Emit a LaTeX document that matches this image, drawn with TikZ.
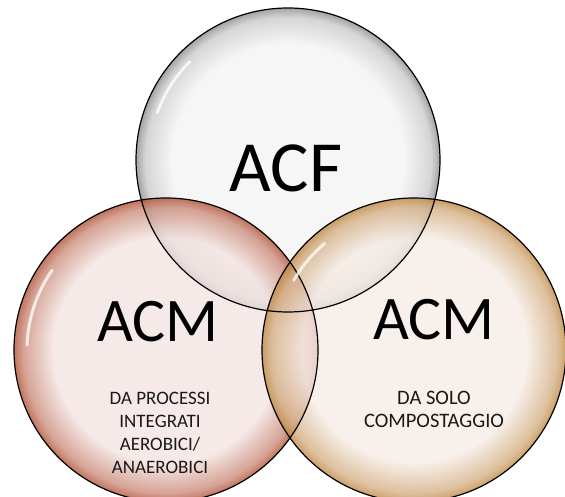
\documentclass[tikz,border=0pt]{standalone}
\usepackage{fontspec}
\setmainfont{Carlito}
\usepackage{tikz}
\usetikzlibrary{positioning}

\definecolor{acfFill}{HTML}{F4F4F4}
\definecolor{acfRim}{HTML}{8A8A8A}
\definecolor{integFill}{HTML}{F3E4E2}
\definecolor{integRim}{HTML}{B04E32}
\definecolor{compFill}{HTML}{F5ECE6}
\definecolor{compRim}{HTML}{BE8640}

\pgfdeclareradialshading{bubbleacf}{\pgfpointorigin}{color(0bp)=(acfFill); color(19bp)=(acfFill); color(23.5bp)=(acfRim!40!acfFill); color(25bp)=(acfRim); color(50bp)=(acfRim)}
\pgfdeclareradialshading{bubbleinteg}{\pgfpointorigin}{color(0bp)=(integFill); color(18.5bp)=(integFill); color(23.5bp)=(integRim!60!integFill); color(25bp)=(integRim); color(50bp)=(integRim)}
\pgfdeclareradialshading{bubblecomp}{\pgfpointorigin}{color(0bp)=(compFill); color(18.5bp)=(compFill); color(23.5bp)=(compRim!60!compFill); color(25bp)=(compRim); color(50bp)=(compRim)}

\tikzset{
  bubble/.style={circle, inner sep=0pt, minimum size=304pt, fill opacity=0.78},
  rimline/.style={circle, inner sep=0pt, minimum size=304pt, draw=black, line width=1.2pt},
  glare/.style={white, line width=3pt, line cap=round, opacity=0.75},
  bigtext/.style={font=\fontsize{#1}{#1}\selectfont, inner sep=0pt},
  smalltext/.style={font=\fontsize{#1}{23}\selectfont, align=center, inner sep=0pt, text=black!90}
}

\begin{document}
\begin{tikzpicture}[x=1pt, y=1pt]
\useasboundingbox (0,0) rectangle (565,497);
% the three bubbles
\node[bubble, shading=bubbleacf] (acf) at (288,337) {};
\node[bubble, shading=bubbleinteg] (integ) at (166,147) {};
\node[bubble, shading=bubblecomp] (comp) at (414,147) {};
% outlines on top of all fills
\foreach \b in {acf,integ,comp}
  \node[rimline] at (\b.center) {};
% glare on the rims
\draw[glare] ([shift={(135:139)}]acf.center) arc (135:160:139);
\draw[glare] ([shift={(145:139)}]integ.center) arc (145:178:139);
\draw[glare] ([shift={(130:139)}]comp.center) arc (130:150:139);
% labels
\node[bigtext=72] (acfT) at (286,329) {ACF};
\node[bigtext=62] (integT) at (158,175) {ACM};
\node[bigtext=62] (compT) at (434,177) {ACM};
\node[smalltext=19] (integS) at (160,64) {DA PROCESSI\\INTEGRATI\\AEROBICI/\\ANAEROBICI};
\node[smalltext=20.5] (compS) at (434,88) {DA SOLO\\COMPOSTAGGIO};
\end{tikzpicture}
\end{document}
